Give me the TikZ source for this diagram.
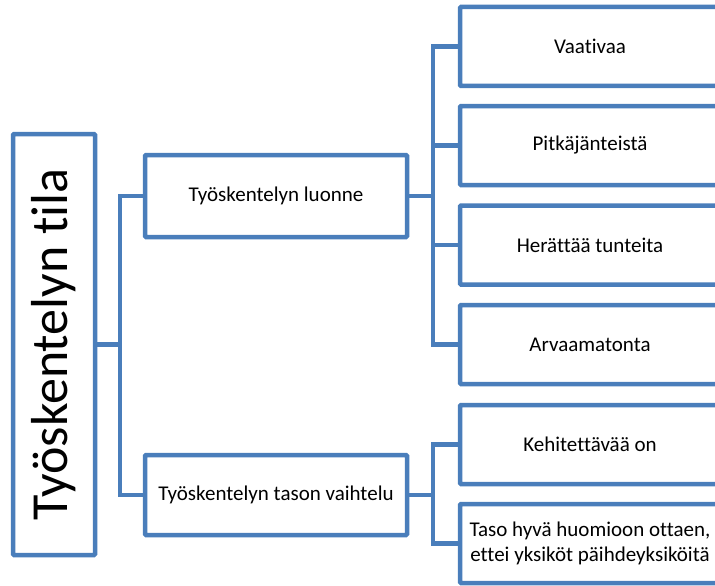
\documentclass[tikz,border=0pt]{standalone}
\usepackage{fontspec}
\setmainfont[RawFeature={-liga;-dlig;-clig}]{Carlito}
\definecolor{boxblue}{RGB}{74,126,187}

\begin{document}
\begin{tikzpicture}[x = 1pt, y = -1pt,
	box/.style = {draw = boxblue, line width = 4.5pt, rounded corners = 1pt, fill = white,
		minimum width = 260pt, minimum height = 79pt, inner sep = 0pt, align = center,
		font = \fontsize{21}{25}\selectfont},
	link/.style = {draw = boxblue, line width = 4.5pt}]

	\useasboundingbox (0, 0) rectangle (715, 586);

	% Root box, text turned on its side

	\node [box, rotate = 90, minimum width = 421pt, minimum height = 82pt,
		font = \fontsize{52}{60}\selectfont] (root) at (54, 344.5) {Työskentelyn tila};

	% Second level

	\node [box, minimum width = 262pt, minimum height = 82pt] (luonne) at (276, 196) {Työskentelyn luonne};
	\node [box, minimum width = 262pt, minimum height = 80pt] (vaihtelu) at (276, 495) {Työskentelyn tason vaihtelu};

	% Leaves

	\node [box] (vaativaa) at (590, 46.5) {Vaativaa};
	\node [box] (pitka) at (590, 145.5) {Pitkäjänteistä};
	\node [box] (tunteita) at (590, 245) {Herättää tunteita};
	\node [box] (arvaamaton) at (590, 344.5) {Arvaamatonta};
	\node [box] (kehitettava) at (590, 444.5) {Kehitettävää on};
	\node [box] (taso) at (590, 543.5) {Taso hyvä huomioon ottaen,\\ettei yksiköt päihdeyksiköitä};

	% Connectors

	\begin{scope}[link]

		\coordinate (t0) at (120, 344.5);
		\coordinate (t1) at (433, 196);
		\coordinate (t2) at (433, 495);

		\draw (root.south) -- (t0);
		\draw (luonne.west) -| (t0) |- (vaihtelu.west);

		\draw (luonne.east) -- (t1);
		\foreach \leaf in {vaativaa, pitka, tunteita, arvaamaton}
			\draw (t1) |- (\leaf.west);

		\draw (vaihtelu.east) -- (t2);
		\foreach \leaf in {kehitettava, taso}
			\draw (t2) |- (\leaf.west);

	\end{scope}

\end{tikzpicture}
\end{document}
